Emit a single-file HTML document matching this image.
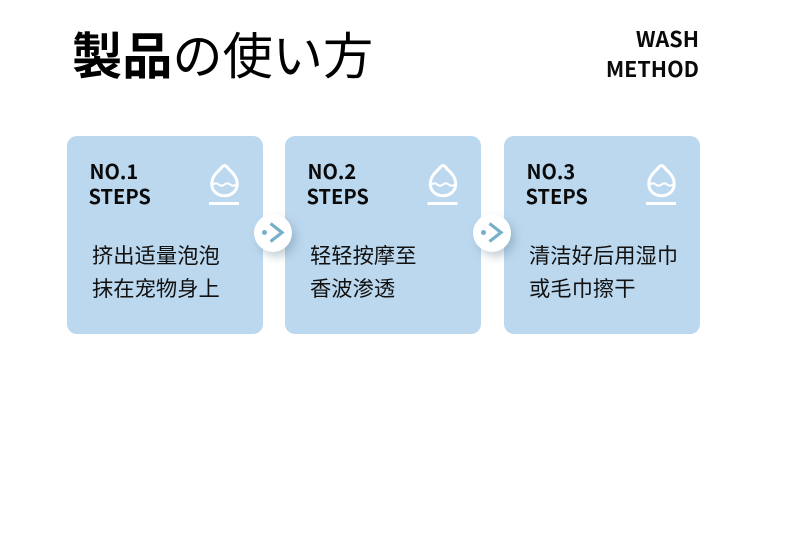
<!DOCTYPE html>
<html><head><meta charset="utf-8"><style>
html,body{margin:0;padding:0;background:#fff}
#p{position:relative;width:790px;height:559px;overflow:hidden;background:#fff;font-family:"Liberation Sans","Noto Sans CJK SC",sans-serif;color:#000}
.a{position:absolute;white-space:nowrap}
.card{position:absolute;top:136px;width:196px;height:198px;background:#bcd8ef;border-radius:10px}
.no{position:absolute;font:700 20px/25px "Noto Sans CJK SC","Liberation Sans",sans-serif;color:#0a0a0a}
.tx{position:absolute;font:400 21.300px/33px "Noto Sans CJK SC",sans-serif;color:#111;white-space:nowrap}
.ic{position:absolute}
.btn{position:absolute;top:214px;width:38px;height:38px;border-radius:50%;background:#fff;box-shadow:4px 5px 9px rgba(90,120,140,.35)}
</style></head><body><div id="p">
<div class="a" style="left:72px;top:18px;font:700 50.200px/70px 'Noto Sans CJK JP',sans-serif">製品<span style="font-weight:400">の使い方</span></div>
<div class="a" style="right:91px;top:24px;text-align:right;font:700 21.500px/30px 'Noto Sans CJK SC',sans-serif;color:#0a0a0a">WASH<br>METHOD</div>

<div class="card" style="left:67px"></div>
<div class="card" style="left:285px"></div>
<div class="card" style="left:504px"></div>

<div class="no" style="left:89.500px;top:158px">NO.1</div><div class="no" style="left:88.500px;top:183px">STEPS</div>
<div class="no" style="left:307.500px;top:158px">NO.2</div><div class="no" style="left:306.500px;top:183px">STEPS</div>
<div class="no" style="left:526.500px;top:158px">NO.3</div><div class="no" style="left:525.500px;top:183px">STEPS</div>

<svg class="ic" style="left:0;top:0" width="790" height="559" fill="none" stroke="#fff" stroke-linejoin="round">
<g stroke-width="3"><path d="M224.500 165.500 C223 165.500 222 167 220.500 168.800 C217 172.500 211.800 176.500 211.800 184 C211.800 191 217.500 195.800 224.500 195.800 C231.500 195.800 237.200 191 237.200 184 C237.200 176.500 232 172.500 228.500 168.800 C227 167 226 165.500 224.500 165.500Z"/><path stroke-width="2" d="M213 184.500 q2.900 -2.400 5.750 0 t5.750 0 t5.750 0 t5.750 0"/><path d="M209 203.500H239"/></g>
<g stroke-width="3" transform="translate(218.500 0)"><path d="M224.500 165.500 C223 165.500 222 167 220.500 168.800 C217 172.500 211.800 176.500 211.800 184 C211.800 191 217.500 195.800 224.500 195.800 C231.500 195.800 237.200 191 237.200 184 C237.200 176.500 232 172.500 228.500 168.800 C227 167 226 165.500 224.500 165.500Z"/><path stroke-width="2" d="M213 184.500 q2.900 -2.400 5.750 0 t5.750 0 t5.750 0 t5.750 0"/><path d="M209 203.500H239"/></g>
<g stroke-width="3" transform="translate(437 0)"><path d="M224.500 165.500 C223 165.500 222 167 220.500 168.800 C217 172.500 211.800 176.500 211.800 184 C211.800 191 217.500 195.800 224.500 195.800 C231.500 195.800 237.200 191 237.200 184 C237.200 176.500 232 172.500 228.500 168.800 C227 167 226 165.500 224.500 165.500Z"/><path stroke-width="2" d="M213 184.500 q2.900 -2.400 5.750 0 t5.750 0 t5.750 0 t5.750 0"/><path d="M209 203.500H239"/></g>
</svg>

<div class="tx" style="left:92px;top:238px">挤出适量泡泡<br>抹在宠物身上</div>
<div class="tx" style="left:310px;top:238px">轻轻按摩至<br>香波渗透</div>
<div class="tx" style="left:529px;top:238px">清洁好后用湿巾<br>或毛巾擦干</div>

<div class="btn" style="left:254px"></div>
<div class="btn" style="left:473px"></div>
<svg class="ic" style="left:0;top:0" width="790" height="559" fill="none" stroke="#76b0c9" stroke-width="3.200">
<circle cx="264.500" cy="232.500" r="2.500" fill="#76b0c9" stroke="none"/><path d="M270.500 223.500L282 232.500L270.500 241.500"/>
<circle cx="483.500" cy="232.500" r="2.500" fill="#76b0c9" stroke="none"/><path d="M489.500 223.500L501 232.500L489.500 241.500"/>
</svg>
</div></body></html>
